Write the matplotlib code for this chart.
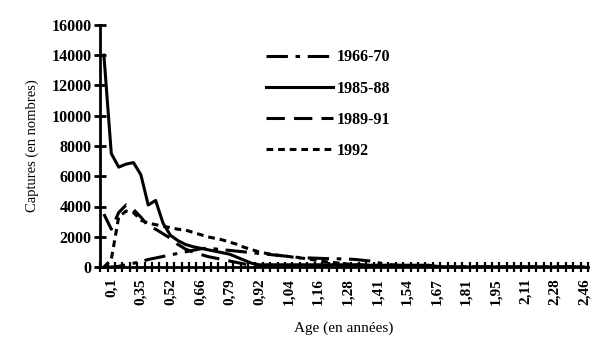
import matplotlib
matplotlib.use("Agg")
import matplotlib.pyplot as plt
import numpy as np

# Age categories (tick labels shown every 4th category, starting at index 1)
age_labels = ["0,1", "0,35", "0,52", "0,66", "0,79", "0,92", "1,04", "1,16", "1,28",
              "1,41", "1,54", "1,67", "1,81", "1,95", "2,11", "2,28", "2,46"]
n_categories = 66

s1966_70 = [0, 0, 50, 150, 250, 350, 500, 600, 700, 800, 900, 1000, 1100, 1200, 1250, 1200,
            1150, 1100, 1050, 1000, 950, 900, 850, 800, 750, 700, 650, 600, 600, 580, 560,
            550, 540, 530, 500, 450, 400, 300, 200, 150, 100, 80, 60, 40, 20] + [0] * 21
s1985_88 = [14000, 7500, 6600, 6800, 6900, 6100, 4100, 4400, 2900, 2100, 1750, 1500, 1350,
            1250, 1150, 1050, 950, 850, 650, 450, 250, 150, 150, 150, 150, 150, 150, 150,
            150, 150, 150, 150, 150, 150, 150, 150, 120, 120, 120, 120, 120, 120, 120, 120,
            120, 50] + [0] * 20
s1989_91 = [3500, 2500, 3600, 4100, 3800, 3300, 2700, 2500, 2200, 1900, 1500, 1200, 1000,
            850, 700, 600, 500, 400, 300, 200, 100, 50] + [0] * 44
s1992 = [0, 500, 3300, 3700, 3600, 3100, 2900, 2800, 2700, 2600, 2500, 2450, 2300, 2150,
         2000, 1900, 1800, 1650, 1500, 1300, 1150, 1000, 900, 820, 750, 700, 620, 580, 500,
         420, 350, 300, 250, 200, 150, 120, 100, 80, 60, 40, 20] + [0] * 25

series_names = ["1966-70", "1985-88", "1989-91", "1992"]
series_values = [s1966_70, s1985_88, s1989_91, s1992]
styles = [(0, (7, 2.5, 1.5, 2.5)), "-", (0, (6, 3)), (0, (2.2, 1.6))]

plt.rcParams['font.family'] = ['Liberation Serif', 'DejaVu Serif']
plt.rcParams['font.weight'] = 'bold'

fig = plt.figure(figsize=(6, 3.5), dpi=100)
ax = fig.add_axes([0.167, 0.237, 0.813, 0.692])

x = np.arange(n_categories)
for name, vals, ls in zip(series_names, series_values, styles):
    ax.plot(x, vals, color="black", linestyle=ls, linewidth=2.2, label=name)

ax.set_xlim(-0.5, n_categories - 0.5)
ax.set_ylim(0, 16000)
ax.set_yticks(np.arange(0, 16001, 2000))
ax.tick_params(axis='y', direction='inout', length=8, width=2, labelsize=11.5, pad=2)

label_pos = np.arange(1, n_categories, 4)
ax.set_xticks(label_pos)
ax.set_xticklabels(age_labels, rotation=90, fontsize=11)
ax.set_xticks(np.arange(-0.5, n_categories, 1), minor=True)
ax.tick_params(axis='x', which='major', length=0, pad=8)
ax.tick_params(axis='x', which='minor', direction='inout', length=7, width=1.6)

for s in ['top', 'right']:
    ax.spines[s].set_visible(False)
for s in ['left', 'bottom']:
    ax.spines[s].set_linewidth(2)

ax.set_ylabel("Captures (en nombres)", fontsize=10.5, labelpad=9)
ax.set_xlabel("Age (en années)", fontsize=11, labelpad=12)

fig.legend(loc='upper left', bbox_to_anchor=(0.42, 0.9), frameon=False,
           fontsize=11.5, handlelength=4.2, labelspacing=0.95, handletextpad=0.2)

fig.savefig("out.png", dpi=100)
